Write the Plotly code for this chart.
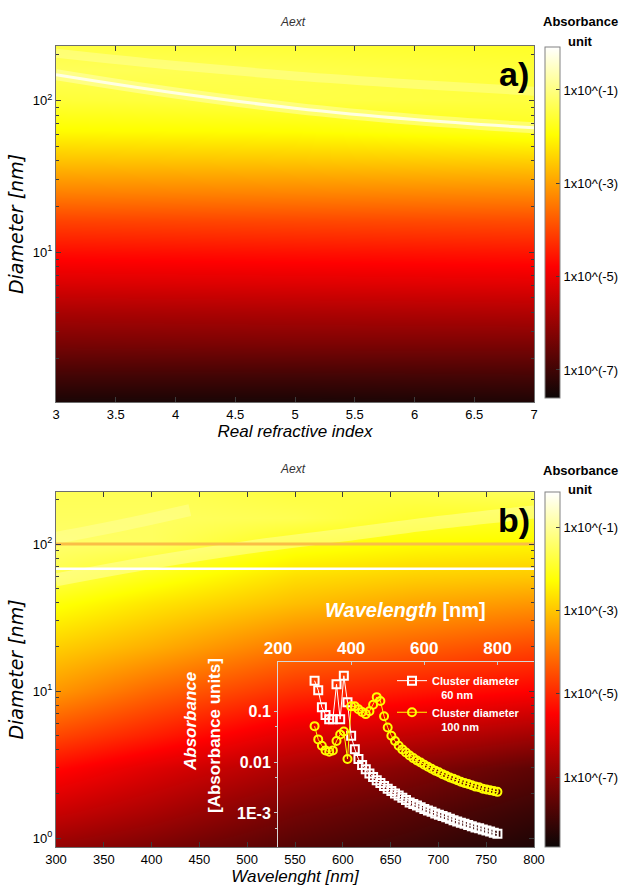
import plotly.graph_objects as go

# ---------------- Panel a: Aext vs real refractive index and diameter ----------------
ri_cols = [3.0, 5.0, 7.0]
diam_rows_a = [0.9, 1.5, 2.5, 4.0, 6.3, 10, 16, 25, 40, 63, 100, 160, 250]
log_abs_a = [
    [-7.60, -7.60, -7.55],
    [-7.00, -7.00, -6.95],
    [-6.35, -6.30, -6.30],
    [-5.80, -5.75, -5.70],
    [-5.20, -5.15, -5.10],
    [-4.65, -4.60, -4.55],
    [-4.05, -4.00, -3.95],
    [-3.35, -3.30, -3.25],
    [-2.65, -2.60, -2.50],
    [-2.00, -1.95, -1.75],
    [-1.55, -1.45, -1.50],
    [-1.30, -1.40, -1.55],
    [-1.50, -1.60, -1.70],
]
# bright resonance ridges seen in panel a
ridge1_ri = [3, 4, 5, 6, 7]
ridge1_d = [148, 112, 89, 75, 66]
ridge2_ri = [3, 4, 5, 6, 7]
ridge2_d = [205, 170, 145, 128, 115]

# ---------------- Panel b: Aext vs wavelength and diameter ----------------
wl_cols = [300, 400, 550, 675, 800]
diam_rows_b = [0.8, 1.5, 3, 5, 10, 20, 40, 60, 100, 150, 250]
log_abs_b = [
    [-7.0, -7.3, -7.8, -8.1, -8.5],
    [-6.2, -6.6, -7.3, -7.7, -8.1],
    [-5.4, -5.9, -6.6, -7.1, -7.6],
    [-4.6, -5.1, -5.9, -6.3, -6.7],
    [-3.6, -4.2, -4.9, -5.2, -5.5],
    [-2.9, -3.3, -4.0, -4.3, -4.6],
    [-2.2, -2.6, -3.1, -3.4, -3.6],
    [-1.7, -2.1, -2.7, -2.9, -3.0],
    [-1.4, -1.5, -2.1, -2.3, -2.4],
    [-1.5, -1.5, -1.6, -1.9, -2.0],
    [-1.6, -1.6, -1.8, -1.6, -1.4],
]
band1_wl = [300, 400, 500, 600, 700, 800]
band1_d = [57, 75, 95, 115, 140, 165]
band2_wl = [300, 370, 440]
band2_d = [110, 135, 170]
wl_span = [300, 800]
orange_line_d = 100
white_line_d = 68

# ---------------- Inset: absorbance spectra ----------------
wl_inset = [300, 310, 320, 330, 340, 350, 360, 370, 380, 390,
            400, 410, 420, 430, 440, 450, 460, 470, 480, 490,
            500, 510, 520, 530, 540, 550, 560, 570, 580, 590,
            600, 610, 620, 630, 640, 650, 660, 670, 680, 690,
            700, 710, 720, 730, 740, 750, 760, 770, 780, 790, 800]
abs_60nm = [0.40, 0.26, 0.12, 0.085, 0.070, 0.070, 0.34, 0.070, 0.50, 0.15,
            0.033, 0.018, 0.0115, 0.0088, 0.0072, 0.0060, 0.0051, 0.0044, 0.0039, 0.0034,
            0.0030, 0.0027, 0.0024, 0.0022, 0.0020, 0.0018, 0.0016, 0.0015, 0.0014, 0.0013,
            0.0012, 0.00112, 0.00105, 0.00098, 0.00092, 0.00087, 0.00082, 0.00077, 0.00072, 0.00068,
            0.00064, 0.00061, 0.00058, 0.00055, 0.00052, 0.00050, 0.00047, 0.00045, 0.00043, 0.00041,
            0.00039]
abs_100nm = [0.051, 0.028, 0.021, 0.017, 0.016, 0.017, 0.026, 0.035, 0.040, 0.0115,
             0.125, 0.125, 0.110, 0.097, 0.088, 0.100, 0.135, 0.190, 0.160, 0.080,
             0.048, 0.033, 0.026, 0.021, 0.0178, 0.0155, 0.0135, 0.0120, 0.0108, 0.0098,
             0.0089, 0.0081, 0.0074, 0.0068, 0.0063, 0.0058, 0.0054, 0.0050, 0.0047, 0.0044,
             0.0041, 0.0039, 0.0037, 0.0035, 0.0033, 0.0032, 0.0030, 0.0029, 0.0028, 0.0027,
             0.0026]

# ---------------- tick labels ----------------
ri_ticks = [3, 3.5, 4, 4.5, 5, 5.5, 6, 6.5, 7]
wl_ticks = [300, 350, 400, 450, 500, 550, 600, 650, 700, 750, 800]
diam_ticks_a = [10, 100]
diam_text_a = ['10<sup>1</sup>', '10<sup>2</sup>']
diam_ticks_b = [1, 10, 100]
diam_text_b = ['10<sup>0</sup>', '10<sup>1</sup>', '10<sup>2</sup>']
diam_minor = [2, 3, 4, 5, 6, 7, 8, 9, 20, 30, 40, 50, 60, 70, 80, 90, 200]
cb_ticks = [-1, -3, -5, -7]
cb_text = ['1x10^(-1)', '1x10^(-3)', '1x10^(-5)', '1x10^(-7)']
inset_x_ticks = [200, 400, 600, 800]
inset_y_ticks = [0.1, 0.01, 0.001]
inset_y_text = ['0.1', '0.01', '1E-3']
inset_y_minor = [0.05, 0.005, 0.0005]

W, H = 620, 888


def fx(p):
    return p / W


def fy(p):
    return 1 - p / H


hot = [[0.0, 'rgb(12,6,6)'], [0.375, 'rgb(255,0,0)'],
       [0.75, 'rgb(255,255,0)'], [1.0, 'rgb(255,255,255)']]

fig = go.Figure()

# panel a
fig.add_trace(go.Heatmap(x=ri_cols, y=diam_rows_a, z=log_abs_a, coloraxis='coloraxis',
                         zsmooth='best', xaxis='x', yaxis='y', hoverinfo='skip'))
fig.add_trace(go.Scatter(x=ridge2_ri, y=ridge2_d, mode='lines', xaxis='x', yaxis='y',
                         line=dict(color='rgba(255,255,215,0.3)', width=9, shape='spline'),
                         showlegend=False, hoverinfo='skip'))
fig.add_trace(go.Scatter(x=ridge1_ri, y=ridge1_d, mode='lines', xaxis='x', yaxis='y',
                         line=dict(color='rgba(255,255,215,0.4)', width=11, shape='spline'),
                         showlegend=False, hoverinfo='skip'))
fig.add_trace(go.Scatter(x=ridge1_ri, y=ridge1_d, mode='lines', xaxis='x', yaxis='y',
                         line=dict(color='rgba(255,255,245,0.85)', width=3, shape='spline'),
                         showlegend=False, hoverinfo='skip'))

# panel b
fig.add_trace(go.Heatmap(x=wl_cols, y=diam_rows_b, z=log_abs_b, coloraxis='coloraxis2',
                         zsmooth='best', xaxis='x2', yaxis='y2', hoverinfo='skip'))
fig.add_trace(go.Scatter(x=band2_wl, y=band2_d, mode='lines', xaxis='x2', yaxis='y2',
                         line=dict(color='rgba(255,255,200,0.3)', width=12, shape='spline'),
                         showlegend=False, hoverinfo='skip'))
fig.add_trace(go.Scatter(x=band1_wl, y=band1_d, mode='lines', xaxis='x2', yaxis='y2',
                         line=dict(color='rgba(255,255,200,0.4)', width=13, shape='spline'),
                         showlegend=False, hoverinfo='skip'))
fig.add_trace(go.Scatter(x=wl_span, y=[orange_line_d, orange_line_d], mode='lines', xaxis='x2', yaxis='y2',
                         line=dict(color='rgb(250,190,70)', width=3),
                         showlegend=False, hoverinfo='skip'))
fig.add_trace(go.Scatter(x=wl_span, y=[white_line_d, white_line_d], mode='lines', xaxis='x2', yaxis='y2',
                         line=dict(color='white', width=2.5),
                         showlegend=False, hoverinfo='skip'))

# inset
fig.add_trace(go.Scatter(x=wl_inset, y=abs_60nm, mode='lines+markers', xaxis='x3', yaxis='y3',
                         name='Cluster diameter<br>   60 nm',
                         line=dict(color='white', width=1),
                         marker=dict(symbol='square-open', size=8, color='white',
                                     line=dict(color='white', width=2))))
fig.add_trace(go.Scatter(x=wl_inset, y=abs_100nm, mode='lines+markers', xaxis='x3', yaxis='y3',
                         name='Cluster diameter<br>   100 nm',
                         line=dict(color='rgb(255,255,0)', width=1),
                         marker=dict(symbol='circle-open', size=8, color='rgb(255,255,0)',
                                     line=dict(color='rgb(255,255,0)', width=2))))

axis_line = 'rgb(110,110,110)'
tick_font = dict(family='Liberation Sans, Arial', size=13, color='black')


def main_axis(**kw):
    d = dict(ticks='inside', ticklen=5, tickcolor='rgb(60,60,60)', showline=True,
             linecolor=axis_line, linewidth=1.2, mirror='ticks', showgrid=False,
             zeroline=False, tickfont=tick_font)
    d.update(kw)
    return d


minor_cfg = dict(ticks='inside', ticklen=3, tickcolor='rgb(60,60,60)', tickmode='array',
                 tickvals=diam_minor, showgrid=False)

xtitle_font = dict(family='Liberation Sans, Arial', size=17, color='black', style='italic')
ytitle_font = dict(family='DejaVu Sans', size=19, color='black', style='italic')

fig.update_layout(
    width=W, height=H,
    margin=dict(l=0, r=0, t=0, b=0, autoexpand=False),
    paper_bgcolor='white', plot_bgcolor='rgba(0,0,0,0)',
    font=dict(family='Liberation Sans, Arial'),
    xaxis=main_axis(domain=[fx(56), fx(534)], anchor='y', range=[3, 7],
                    tickmode='array', tickvals=ri_ticks,
                    title=dict(text='Real refractive index', font=xtitle_font, standoff=4)),
    yaxis=main_axis(domain=[fy(402), fy(46)], anchor='x', type='log', range=[0.013, 2.359],
                    tickmode='array', tickvals=diam_ticks_a, ticktext=diam_text_a,
                    minor=minor_cfg,
                    title=dict(text='Diameter [nm]', font=ytitle_font, standoff=4)),
    xaxis2=main_axis(domain=[fx(56), fx(534)], anchor='y2', range=[300, 800],
                     tickmode='array', tickvals=wl_ticks,
                     title=dict(text='Wavelenght [nm]', font=xtitle_font, standoff=2)),
    yaxis2=main_axis(domain=[fy(847), fy(492)], anchor='x2', type='log', range=[-0.061, 2.354],
                     tickmode='array', tickvals=diam_ticks_b, ticktext=diam_text_b,
                     minor=minor_cfg,
                     title=dict(text='Diameter [nm]', font=ytitle_font, standoff=4)),
    xaxis3=dict(domain=[fx(278), fx(534)], anchor='y3', side='top', range=[200, 900],
                tickmode='array', tickvals=inset_x_ticks, ticks='inside', ticklen=3,
                tickcolor='rgb(200,200,200)', showline=True, linecolor='rgb(215,215,215)',
                linewidth=1, showgrid=False, zeroline=False,
                tickfont=dict(family='Liberation Sans, Arial', size=17, color='white', weight='bold')),
    yaxis3=dict(domain=[fy(847), fy(662)], anchor='x3', type='log', range=[-3.67, -0.03],
                tickmode='array', tickvals=inset_y_ticks, ticktext=inset_y_text,
                ticks='outside', ticklen=3, tickcolor='rgb(200,200,200)',
                minor=dict(ticks='outside', ticklen=2, tickcolor='rgb(200,200,200)',
                           tickmode='array', tickvals=inset_y_minor, showgrid=False),
                showline=True, linecolor='rgb(215,215,215)', linewidth=1,
                showgrid=False, zeroline=False,
                tickfont=dict(family='Liberation Sans, Arial', size=16, color='white', weight='bold')),
    coloraxis=dict(colorscale=hot, cmin=-7.6, cmax=-0.08,
                   colorbar=dict(x=fx(545), xanchor='left', xpad=0, y=fy(222.5), yanchor='middle',
                                 len=351 / H, lenmode='fraction', ypad=0,
                                 thickness=15, thicknessmode='pixels',
                                 outlinewidth=1, outlinecolor='rgb(130,130,130)',
                                 tickmode='array', tickvals=cb_ticks, ticktext=cb_text,
                                 ticks='inside', ticklen=4, tickcolor='rgb(60,60,60)',
                                 tickfont=dict(family='Liberation Sans, Arial', size=13, color='black'))),
    coloraxis2=dict(colorscale=hot, cmin=-8.68, cmax=-0.16,
                    colorbar=dict(x=fx(545), xanchor='left', xpad=0, y=fy(669.5), yanchor='middle',
                                  len=355 / H, lenmode='fraction', ypad=0,
                                  thickness=15, thicknessmode='pixels',
                                  outlinewidth=1, outlinecolor='rgb(130,130,130)',
                                  tickmode='array', tickvals=cb_ticks, ticktext=cb_text,
                                  ticks='inside', ticklen=4, tickcolor='rgb(60,60,60)',
                                  tickfont=dict(family='Liberation Sans, Arial', size=13, color='black'))),
    legend=dict(x=fx(392), y=fy(667), xanchor='left', yanchor='top', bgcolor='rgba(0,0,0,0)',
                font=dict(family='Liberation Sans, Arial', size=11, color='white', weight='bold'),
                valign='top', tracegroupgap=0, itemwidth=30),
    showlegend=True,
)

ann_common = dict(xref='paper', yref='paper', showarrow=False, xanchor='center', yanchor='middle')
annotations = [
    dict(text='<i>Aext</i>', x=fx(293), y=fy(22), font=dict(size=12, color='#333')),
    dict(text='<i>Aext</i>', x=fx(293), y=fy(469), font=dict(size=12, color='#333')),
    dict(text='<b>Absorbance</b>', x=fx(580), y=fy(22), font=dict(size=13, color='black')),
    dict(text='<b>unit</b>', x=fx(580), y=fy(42), font=dict(size=13, color='black')),
    dict(text='<b>Absorbance</b>', x=fx(580), y=fy(470), font=dict(size=13, color='black')),
    dict(text='<b>unit</b>', x=fx(580), y=fy(489), font=dict(size=13, color='black')),
    dict(text='<b>a)</b>', x=fx(514), y=fy(74), font=dict(size=34, color='black')),
    dict(text='<b>b)</b>', x=fx(514), y=fy(520), font=dict(size=34, color='black')),
    dict(text='<b><i>Wavelength</i> [nm]</b>', x=fx(406), y=fy(610),
         font=dict(size=20, color='white')),
    dict(text='<b><i>Absorbance</i></b>', x=fx(190), y=fy(722), textangle=-90,
         font=dict(size=17, color='white')),
    dict(text='<b>[Absorbance units]</b>', x=fx(214), y=fy(736), textangle=-90,
         font=dict(size=17, color='white')),
]
fig.update_layout(annotations=[dict(a, **ann_common) for a in annotations])

fig.write_html("out.html")
